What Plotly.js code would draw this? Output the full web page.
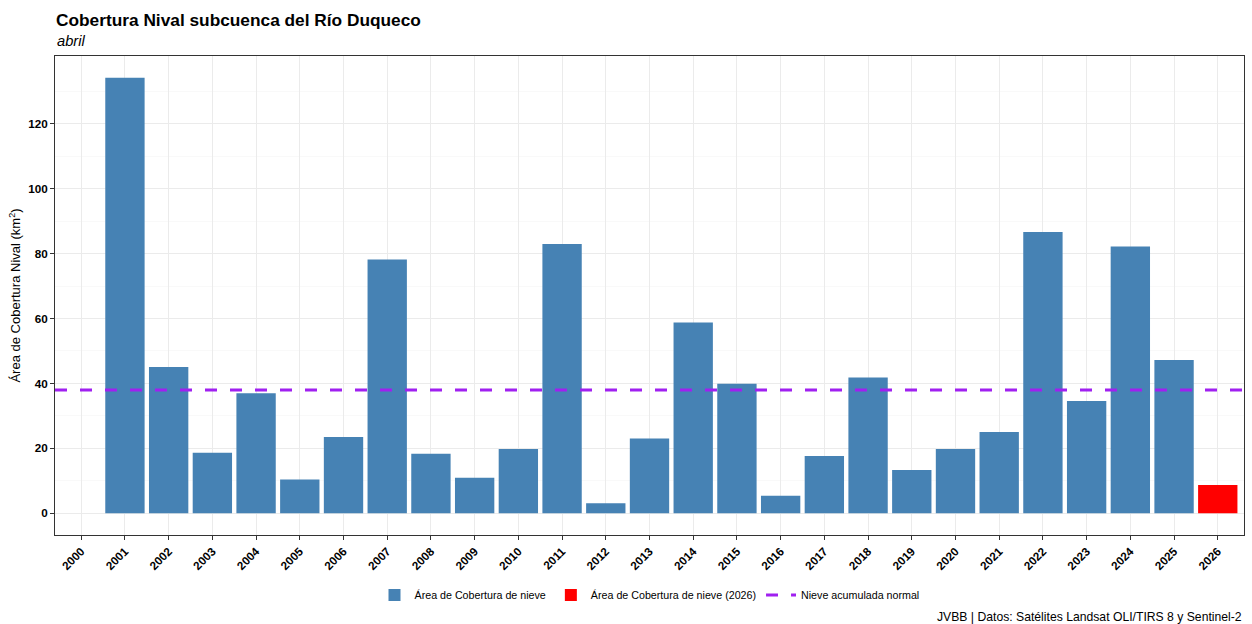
<!DOCTYPE html>
<html>
<head>
<meta charset="utf-8">
<script src="https://cdn.plot.ly/plotly-3.0.1.min.js"></script>
<style>html,body{margin:0;padding:0;background:#fff;}#chart{width:1252px;height:624px;}</style>
</head>
<body>
<div id="chart"></div>
<script>
// ---- data ----
const axisYears = [2000,2001,2002,2003,2004,2005,2006,2007,2008,2009,2010,2011,2012,2013,2014,2015,2016,2017,2018,2019,2020,2021,2022,2023,2024,2025,2026];
const tickLabels = axisYears.map(String);
const histYears = [2001,2002,2003,2004,2005,2006,2007,2008,2009,2010,2011,2012,2013,2014,2015,2016,2017,2018,2019,2020,2021,2022,2023,2024,2025];
const histSnowArea = [134.2,45.1,18.6,37.0,10.4,23.5,78.2,18.3,10.9,19.8,83.0,3.1,23.0,58.8,39.9,5.4,17.6,41.8,13.3,19.8,25.0,86.7,34.6,82.2,47.2];
const currentYears = [2026];
const currentSnowArea = [8.7];
const normalSnow = 38.0;
const yTickVals = [0,20,40,60,80,100,120];
const yMinorVals = [10,30,50,70,90,110,130];

const seriesNames = ['Área de Cobertura de nieve','Área de Cobertura de nieve (2026)','Nieve acumulada normal'];
const titleText = 'Cobertura Nival subcuenca del Río Duqueco';
const subtitleText = 'abril';
const yTitle = 'Área de Cobertura Nival (km<sup>2</sup>)';
const captionText = 'JVBB | Datos: Satélites Landsat OLI/TIRS 8 y Sentinel-2';

// ---- styling ----
const FONT = 'Liberation Sans, Arial, sans-serif';
const allVals = histSnowArea.concat(currentSnowArea, [normalSnow]);
const yMax = Math.max(...allVals), yMin = 0;
const yExp = (yMax - yMin) * 0.05;
const xRange = [Math.min(...axisYears) - 0.6, Math.max(...axisYears) + 0.6];

const traces = [
  {type:'bar', x:histYears, y:histSnowArea, name:seriesNames[0], width:0.9,
   marker:{color:'#4682B4', line:{width:0}}, hoverinfo:'x+y'},
  {type:'bar', x:currentYears, y:currentSnowArea, name:seriesNames[1], width:0.9,
   marker:{color:'#FF0000', line:{width:0}}, hoverinfo:'x+y'}
];

const layout = {
  width:1252, height:624,
  paper_bgcolor:'#FFFFFF', plot_bgcolor:'#FFFFFF',
  font:{family:FONT, color:'#000000'},
  margin:{l:55, r:8, t:56, b:89, pad:0},
  barmode:'overlay',
  title:{text:'<b>'+titleText+'</b>', font:{size:17.3, family:FONT, color:'#000'},
         x:56/1252, xref:'container', xanchor:'left', y:1-20/624, yref:'container', yanchor:'middle'},
  xaxis:{type:'linear', range:xRange, tickmode:'array', tickvals:axisYears, ticktext:tickLabels,
         tickangle:-45, tickfont:{size:11.7, family:FONT, color:'#000', weight:'bold'},
         ticks:'outside', ticklen:4, tickcolor:'#333333', tickwidth:1,
         showgrid:true, gridcolor:'#EBEBEB', gridwidth:1,
         showline:true, mirror:true, linecolor:'#333333', linewidth:1, zeroline:false, automargin:false},
  yaxis:{range:[yMin - yExp, yMax + yExp], tickmode:'array', tickvals:yTickVals, ticktext:yTickVals.map(String),
         tickfont:{size:11.7, family:FONT, color:'#000', weight:'bold'},
         ticks:'outside', ticklen:4, tickcolor:'#333333', tickwidth:1,
         showgrid:true, gridcolor:'#EBEBEB', gridwidth:1,
         minor:{tickmode:'array', tickvals:yMinorVals, showgrid:true, gridcolor:'#F5F5F5', gridwidth:0.6, ticks:''},
         showline:true, mirror:true, linecolor:'#333333', linewidth:1, zeroline:false, automargin:false,
         title:{text:yTitle, font:{size:13, family:FONT, color:'#000'}, standoff:4}},
  shapes:[{type:'line', xref:'paper', x0:0, x1:1, yref:'y', y0:normalSnow, y1:normalSnow,
           line:{color:'#A020F0', width:3, dash:'12px,13px'}, layer:'above',
           showlegend:true, name:seriesNames[2]}],
  legend:{orientation:'h', x:0.5, xanchor:'center', y:-0.125, yanchor:'middle',
          font:{size:10.7, family:FONT, color:'#000'}, bgcolor:'rgba(0,0,0,0)', traceorder:'normal'},
  annotations:[
    {text:'<i>'+subtitleText+'</i>', xref:'paper', yref:'paper', x:0, y:(535-41)/479, xanchor:'left', yanchor:'middle',
     showarrow:false, font:{size:14.7, family:FONT, color:'#000'}},
    {text:captionText, xref:'paper', yref:'paper', x:1, y:(535-617)/479, xanchor:'right', yanchor:'middle',
     showarrow:false, font:{size:12.2, family:FONT, color:'#000'}}
  ],
  showlegend:true
};

Plotly.newPlot('chart', traces, layout, {displayModeBar:false, staticPlot:true});
</script>
</body>
</html>
